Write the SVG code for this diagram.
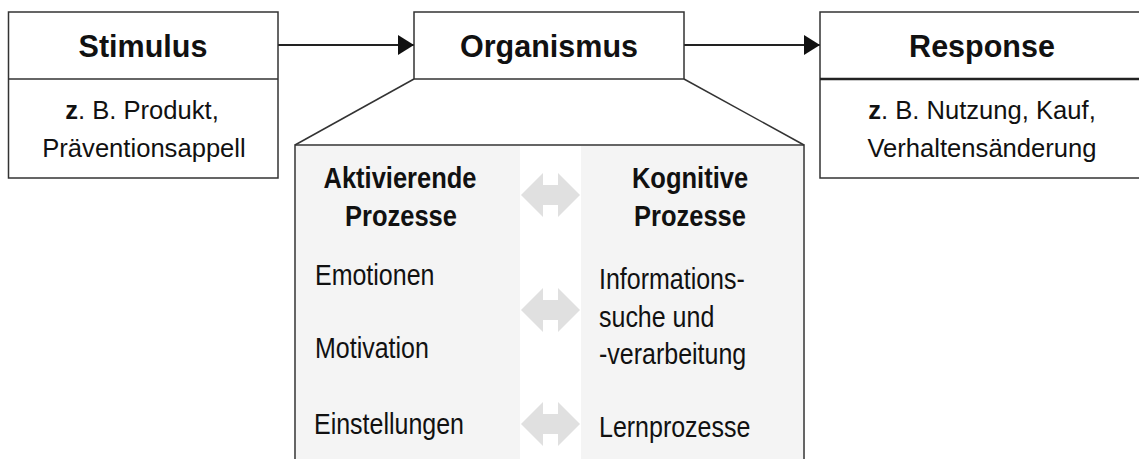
<svg xmlns="http://www.w3.org/2000/svg" width="1139" height="459" viewBox="0 0 1139 459">
<defs>
<style>
.box{fill:#fff;stroke:#333;stroke-width:1.5}
.div{stroke:#333;stroke-width:1.5}
.t{font-family:"Liberation Sans",Arial,sans-serif;fill:#111}
.h{font-size:30.5px;font-weight:bold;text-anchor:middle}
.b{font-size:25.6px;text-anchor:middle}
.z{font-weight:bold}
.ph{font-size:25.5px;font-weight:bold;text-anchor:middle}
.p{font-size:25px}
.conn{stroke:#222;stroke-width:2;fill:none}
.da{fill:#e0e0e0}
</style>
<marker id="ah" viewBox="0 0 10 10" refX="10" refY="5" markerWidth="16" markerHeight="20" markerUnits="userSpaceOnUse" orient="auto" preserveAspectRatio="none">
<path d="M0,0 L10,5 L0,10 z" fill="#111"/>
</marker>
</defs>
<rect width="1139" height="459" fill="#fff"/>

<g id="organismus-detail">
<rect x="295" y="145" width="509" height="330" fill="#fff" stroke="#333" stroke-width="1.5"/>
<rect x="296" y="146" width="224" height="320" fill="#f4f4f4"/>
<rect x="581" y="146" width="222" height="320" fill="#f4f4f4"/>
<polygon class="da" points="521,195 543,173 543,185 558,185 558,173 580,195 558,217 558,205 543,205 543,217"/>
<polygon class="da" points="521,310 543,288 543,300 558,300 558,288 580,310 558,332 558,320 543,320 543,332"/>
<polygon class="da" points="521,424 543,402 543,414 558,414 558,402 580,424 558,446 558,434 543,434 543,446"/>
<text class="t ph" transform="translate(400,188) scale(1,1.17)">Aktivierende</text>
<text class="t ph" transform="translate(401,226) scale(1,1.17)">Prozesse</text>
<text class="t ph" transform="translate(690,188) scale(1,1.17)">Kognitive</text>
<text class="t ph" transform="translate(690,226) scale(1,1.17)">Prozesse</text>
<text class="t p" transform="translate(315,285) scale(1,1.17)">Emotionen</text>
<text class="t p" transform="translate(315,358) scale(1,1.17)">Motivation</text>
<text class="t p" transform="translate(314,434) scale(1,1.17)">Einstellungen</text>
<text class="t p" transform="translate(599,289) scale(1,1.17)">Informations-</text>
<text class="t p" transform="translate(599,327) scale(1,1.17)">suche und</text>
<text class="t p" transform="translate(599,364) scale(1,1.17)">-verarbeitung</text>
<text class="t p" transform="translate(599,437) scale(1,1.17)">Lernprozesse</text>
</g>

<g id="connectors">
<line class="conn" x1="278" y1="45" x2="414" y2="45" marker-end="url(#ah)"/>
<line class="conn" x1="684" y1="45" x2="820" y2="45" marker-end="url(#ah)"/>
<line x1="414" y1="79" x2="295" y2="145" stroke="#333" stroke-width="1.5"/>
<line x1="684" y1="79" x2="804" y2="145" stroke="#333" stroke-width="1.5"/>
</g>

<g id="stimulus">
<rect class="box" x="8.5" y="12" width="269.5" height="166"/>
<line class="div" x1="8.5" y1="79" x2="278" y2="79"/>
<text class="t h" x="143" y="57">Stimulus</text>
<text class="t b" x="142" y="119"><tspan class="z">z</tspan>. B. Produkt,</text>
<text class="t b" x="144" y="157">Präventionsappell</text>
</g>

<g id="organismus">
<rect class="box" x="414" y="12" width="270" height="67"/>
<text class="t h" x="549" y="57">Organismus</text>
</g>

<g id="response">
<rect class="box" x="820" y="12" width="340" height="166"/>
<line x1="820" y1="79" x2="1160" y2="79" stroke="#222" stroke-width="2.5"/>
<text class="t h" x="982" y="57">Response</text>
<text class="t b" x="982" y="119"><tspan class="z">z</tspan>. B. Nutzung, Kauf,</text>
<text class="t b" x="982" y="157">Verhaltensänderung</text>
</g>
</svg>
